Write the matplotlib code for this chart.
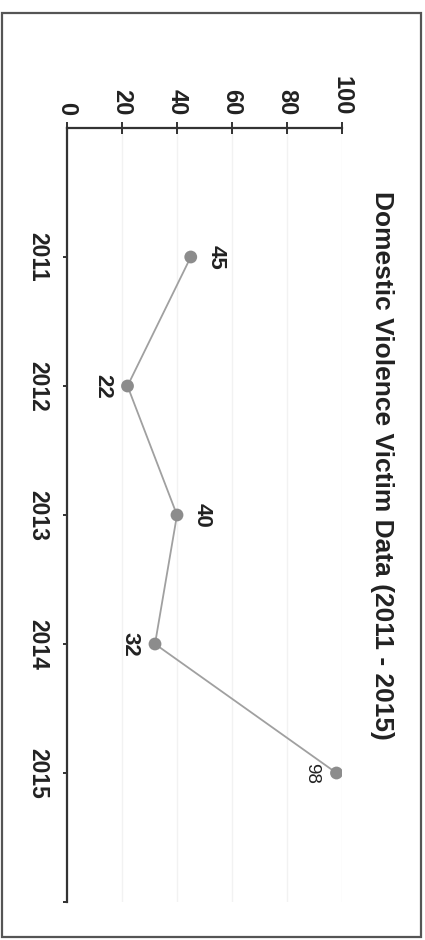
import matplotlib

matplotlib.use("Agg")
import matplotlib.pyplot as plt
from matplotlib.patches import Rectangle

years = ["2011", "2012", "2013", "2014", "2015"]
victims = [45, 22, 40, 32, 98]
value_ticks = [0, 20, 40, 60, 80, 100]

TITLE = "Domestic Violence Victim Data (2011 - 2015)"

plt.rcParams.update(
    {
        "font.family": ["Liberation Sans", "DejaVu Sans"],
        "font.size": 16,
        "font.weight": "bold",
    }
)

W, H = 425, 940
fig = plt.figure(figsize=(W / 100, H / 100), dpi=100)
fig.patch.set_facecolor("white")

# chart is laid on its side: values run left->right along the top, years top->bottom
ax = fig.add_axes([67 / W, 1 - 902 / H, 275 / W, 774 / H])
pos = list(range(1, len(years) + 1))

ax.plot(victims, pos, color="#a0a0a0", lw=1.3, zorder=2)
ax.scatter(victims, pos, s=85, color="#8c8c8c", zorder=3, edgecolors="none")

# value labels: above/below the point in the unrotated sense
sides = [1, -1, 1, -1, -1]
for v, p, s in zip(victims, pos, sides):
    big = v < 90
    ax.annotate(
        str(v),
        (v, p),
        xytext=(s * 18, 0),
        textcoords="offset points",
        rotation=-90,
        ha="center",
        va="center",
        fontsize=16 if big else 13.5,
        fontweight="bold" if big else "normal",
        color="#222222",
    )

ax.set_xlim(0, 100)
ax.set_ylim(len(years) + 1, 0)

ax.xaxis.tick_top()
ax.set_xticks(value_ticks)
ax.set_xticklabels([str(t) for t in value_ticks], rotation=-90, fontsize=17)
ax.tick_params(axis="x", direction="inout", length=8, width=1.3, pad=5, colors="#222222")

ax.set_yticks(pos + [len(years) + 1])
ax.set_yticklabels(years + [""], rotation=-90, va="center", fontsize=16.5)
ax.tick_params(axis="y", direction="out", length=3, width=1.3, pad=10, colors="#222222")

for side in ("right", "bottom"):
    ax.spines[side].set_visible(False)
for side in ("top", "left"):
    ax.spines[side].set_linewidth(1.6)
    ax.spines[side].set_color("#333333")

ax.grid(axis="x", color="#f2f2f2", lw=1.0)
ax.set_axisbelow(True)

fig.text(382 / W, 1 - 465 / H, TITLE, rotation=-90, ha="center", va="center",
         fontsize=19, fontweight="bold", color="#222222")

# outer frame
fig.add_artist(Rectangle((2 / W, 3 / H), 419 / W, 924 / H, transform=fig.transFigure,
                         fill=False, edgecolor="#555555", lw=1.6))

fig.savefig("out.png", dpi=100)
